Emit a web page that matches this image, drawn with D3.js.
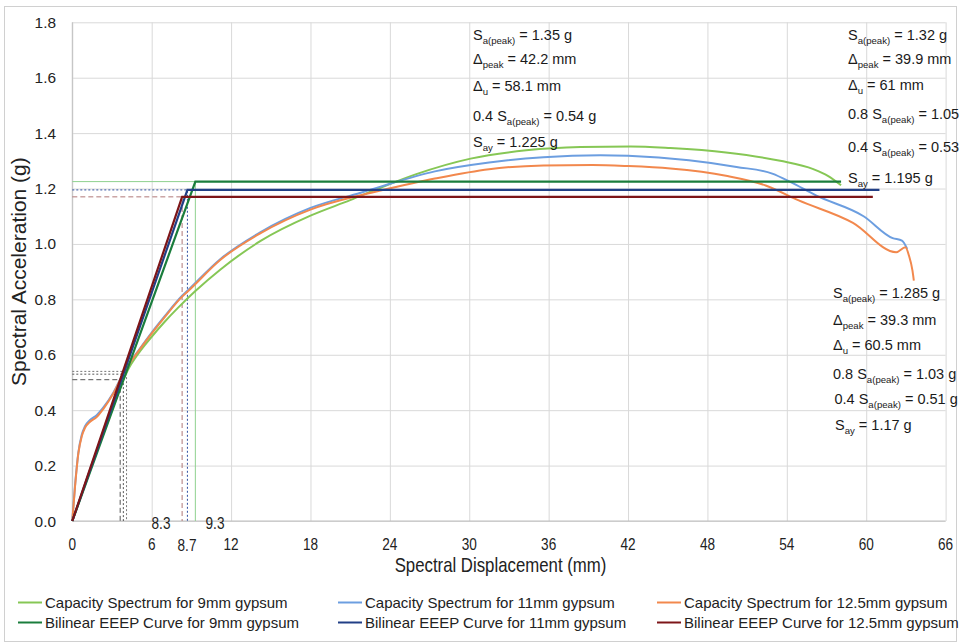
<!DOCTYPE html>
<html><head><meta charset="utf-8">
<script src="https://cdn.jsdelivr.net/npm/d3@7"></script>
<style>body{margin:0;background:#fff} svg{display:block}</style>
</head><body>
<svg id="c" width="964" height="644"></svg>
<script>
// ---------- DATA ----------
const cap9Disp  = [0,1.0,2.0,3.0,3.6,4.2,5.0,6.0,7.0,8.0,9.3,11.2,14.2,18.0,21.0,23.3,26.0,30.1,34.3,38.4,42.2,45.2,49.4,53.5,56.0,57.1,58.1];
const cap9Sa    = [0,0.135,0.27,0.40,0.48,0.545,0.605,0.665,0.72,0.77,0.83,0.908,1.01,1.102,1.158,1.203,1.252,1.308,1.338,1.350,1.352,1.346,1.330,1.300,1.270,1.246,1.212];
const cap11Disp = [0,0.2,0.46,0.71,0.96,1.34,1.84,2.35,3.1,4.0,5.0,6.0,7.0,8.3,8.8,11.2,14.2,18.0,21.8,23.3,27.4,31.5,35.6,39.9,42.0,46.6,50.2,52.9,54.3,56.2,59.8,62.0,62.7,63.1];
const cap11Sa   = [0,0.125,0.248,0.31,0.342,0.365,0.382,0.41,0.463,0.547,0.615,0.68,0.74,0.813,0.836,0.946,1.042,1.13,1.185,1.207,1.262,1.294,1.313,1.32,1.318,1.302,1.278,1.254,1.223,1.175,1.100,1.021,1.012,0.982];
const cap125Disp= [0,0.2,0.46,0.71,0.96,1.34,1.84,2.35,3.1,4.0,5.0,6.0,7.0,8.3,8.8,11.2,14.2,18.0,21.8,23.3,27.4,31.5,35.6,39.3,42.0,45.2,49.4,52.4,54.9,59.0,62.27,62.96,63.23,63.5,63.6];
const cap125Sa  = [0,0.12,0.245,0.305,0.336,0.358,0.375,0.405,0.46,0.545,0.613,0.677,0.737,0.81,0.832,0.943,1.038,1.124,1.176,1.193,1.236,1.27,1.283,1.285,1.281,1.272,1.246,1.211,1.157,1.076,0.970,0.988,0.958,0.903,0.868];

const bil9Disp  = [0,9.3,58.1];   const bil9Sa  = [0,1.225,1.225];
const bil11Disp = [0,8.7,61.0];   const bil11Sa = [0,1.195,1.195];
const bil125Disp= [0,8.3,60.5];   const bil125Sa= [0,1.17,1.17];

const saPeak04 = [0.54,0.53,0.51];      // 9, 11, 12.5 mm
const yieldDisp = [9.3,8.7,8.3];
const yieldSa   = [1.225,1.195,1.17];
const yieldLabels = ["9.3","8.7","8.3"];

const xTicks = [0,6,12,18,24,30,36,42,48,54,60,66];
const yTicks = [0,0.2,0.4,0.6,0.8,1.0,1.2,1.4,1.6,1.8];

const legendLabels = ["Capacity Spectrum for 9mm gypsum","Capacity Spectrum for 11mm gypsum","Capacity Spectrum for 12.5mm gypsum",
                      "Bilinear EEEP Curve for 9mm gypsum","Bilinear EEEP Curve for 11mm gypsum","Bilinear EEEP Curve for 12.5mm gypsum"];

const annot9 = [["S","a(peak)"," = 1.35 g"],["\u0394","peak"," = 42.2 mm"],["\u0394","u"," = 58.1 mm"],["0.4 S","a(peak)"," = 0.54 g"],["S","ay"," = 1.225 g"]];
const annot11 = [["S","a(peak)"," = 1.32 g"],["\u0394","peak"," = 39.9 mm"],["\u0394","u"," = 61 mm"],["0.8 S","a(peak)"," = 1.05"],["0.4 S","a(peak)"," = 0.53"],["S","ay"," = 1.195 g"]];
const annot125 = [["S","a(peak)"," = 1.285 g"],["\u0394","peak"," = 39.3 mm"],["\u0394","u"," = 60.5 mm"],["0.8 S","a(peak)"," = 1.03 g"],["0.4 S","a(peak)"," = 0.51 g"],["S","ay"," = 1.17 g"]];

// ---------- STYLE ----------
const capColors = ["#86c755","#6c9ee0","#f2884d"];
const bilColors = ["#1a7d3c","#213f86","#7d1518"];
const yieldStyles = [{c:"#8fd18f",d:null},{c:"#2f4fa0",d:"2,2"},{c:"#b07878",d:"5,3"}];
const lowStyles = [{c:"#777",d:"2,2"},{c:"#555",d:"2,2"},{c:"#555",d:"5,3"}];
const FONT = "'Liberation Sans', Arial, sans-serif";

const svg = d3.select("#c");
svg.append("rect").attr("x",4.5).attr("y",6.5).attr("width",952).attr("height",635)
  .attr("fill","#fff").attr("stroke","#d0d0d0");

const x = d3.scaleLinear().domain([0,66]).range([72.3,945.6]);
const y = d3.scaleLinear().domain([0,1.8]).range([521,22.3]);

// grid
const gx = svg.append("g").attr("transform",`translate(0,${y(0)})`)
  .call(d3.axisBottom(x).tickValues(xTicks).tickSize(-(y(0)-y(1.8))).tickFormat(""));
gx.select(".domain").remove();
gx.selectAll(".tick line").attr("stroke","#d9d9d9");
const gy = svg.append("g").attr("transform",`translate(${x(0)},0)`)
  .call(d3.axisLeft(y).tickValues(yTicks).tickSize(-(x(66)-x(0))).tickFormat(""));
gy.select(".domain").remove();
gy.selectAll(".tick line").attr("stroke","#d9d9d9");
// axis lines
svg.append("line").attr("x1",x(0)).attr("x2",x(66)).attr("y1",y(0)).attr("y2",y(0)).attr("stroke","#bfbfbf");
svg.append("line").attr("x1",x(0)).attr("x2",x(0)).attr("y1",y(0)).attr("y2",y(1.8)).attr("stroke","#bfbfbf");

// tick labels
svg.append("g").selectAll("text").data(yTicks).join("text")
  .attr("x",56).attr("y",d=>y(d)).attr("dy","0.36em").attr("text-anchor","end")
  .attr("font-family",FONT).attr("font-size",15.4).attr("fill","#222").text(d3.format(".1f"));
// condensed x labels
function narrowText(px, py, txt, size, sx){
  return svg.append("text").attr("transform",`translate(${px},${py}) scale(${sx},1)`)
    .attr("text-anchor","middle").attr("font-family",FONT).attr("font-size",size).attr("fill","#222").text(txt);
}
xTicks.forEach(d=>narrowText(x(d),550,d,17,0.8));

// axis titles
svg.append("text").attr("transform",`translate(26,${(y(0)+y(1.8))/2}) rotate(-90)`)
  .attr("text-anchor","middle").attr("font-family",FONT).attr("font-size",21).attr("fill","#222")
  .text("Spectral Acceleration (g)");
narrowText(500.5,572,"Spectral Displacement (mm)",20,0.84);

// reference dashed lines: 0.4 Sa(peak)
const bilSlopes = [bil9Sa[1]/bil9Disp[1], bil11Sa[1]/bil11Disp[1], bil125Sa[1]/bil125Disp[1]];
const gRef = svg.append("g").attr("fill","none");
saPeak04.forEach((s,i)=>{
  const dx = s/bilSlopes[i];
  gRef.append("path").attr("d",`M${x(0)},${y(s)}H${x(dx)}V${y(0)}`)
    .attr("stroke",lowStyles[i].c).attr("stroke-width",1).attr("stroke-dasharray",lowStyles[i].d);
});
yieldDisp.forEach((d,i)=>{
  gRef.append("path").attr("d",`M${x(0)},${y(yieldSa[i])}H${x(d)}V${y(0)}`)
    .attr("stroke",yieldStyles[i].c).attr("stroke-width",1).attr("stroke-dasharray",yieldStyles[i].d);
});

// yield labels
const ylPos = [{x:215,y:529},{x:187,y:551},{x:161,y:529}];
yieldLabels.forEach((t,i)=>narrowText(ylPos[i].x, ylPos[i].y, t, 17, 0.8));

// curves
const line = d3.line().x(d=>x(d[0])).y(d=>y(d[1]));
const smooth = d3.line().x(d=>x(d[0])).y(d=>y(d[1])).curve(d3.curveMonotoneX);
const zip = (a,b)=>a.map((v,i)=>[v,b[i]]);
const caps = [zip(cap9Disp,cap9Sa), zip(cap11Disp,cap11Sa), zip(cap125Disp,cap125Sa)];
const bils = [zip(bil9Disp,bil9Sa), zip(bil11Disp,bil11Sa), zip(bil125Disp,bil125Sa)];
caps.forEach((c,i)=>{
  svg.append("path").attr("d",smooth(c)).attr("fill","none").attr("stroke",capColors[i]).attr("stroke-width",2);
});
bils.forEach((c,i)=>{
  svg.append("path").attr("d",line(c)).attr("fill","none").attr("stroke",bilColors[i]).attr("stroke-width",2.2);
});

// annotations
function block(lines, x0, baselines, xs){
  lines.forEach((ln,i)=>{
    const t = svg.append("text").attr("x",(xs&&xs[i])||x0).attr("y",baselines[i])
      .attr("font-family",FONT).attr("font-size",14.5).attr("fill","#1a1a1a");
    t.append("tspan").text(ln[0]);
    t.append("tspan").attr("font-size",9.6).attr("dy",4).text(ln[1]);
    t.append("tspan").attr("dy",-4).text(ln[2].replace(/ /g,"\u00a0"));
  });
}
block(annot9, 473, [40,64.3,91,121,146.7]);
block(annot11, 848, [40,64.3,90,119,151.7,183.3]);
block(annot125, 833, [298.3,325,350,379.3,404.3,430], [833,833,833,833,834.5,835]);

// legend
const legColors = capColors.concat(bilColors);
const colX = [18,338,657];
const rowY = [602.5,622.5];
legendLabels.forEach((lab,i)=>{
  const cx = colX[i%3], cy = rowY[Math.floor(i/3)];
  svg.append("line").attr("x1",cx).attr("x2",cx+24).attr("y1",cy).attr("y2",cy)
    .attr("stroke",legColors[i]).attr("stroke-width",2);
  svg.append("text").attr("x",cx+27).attr("y",cy).attr("dy","0.35em")
    .attr("font-family",FONT).attr("font-size",15).attr("fill","#222").text(lab);
});
</script>
</body></html>
